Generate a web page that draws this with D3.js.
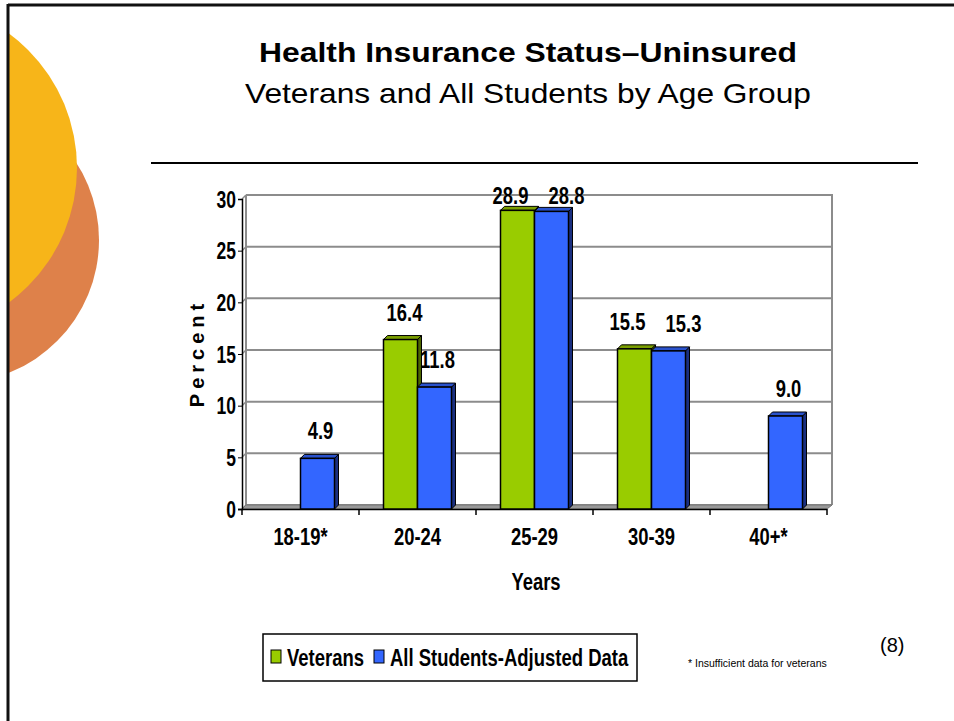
<!DOCTYPE html>
<html>
<head>
<meta charset="utf-8">
<script src="https://cdn.jsdelivr.net/npm/d3@7"></script>
<style>
  body { margin: 0; background: #fff; }
  svg { display: block; }
  .narrow { font-family: "Liberation Sans", Arial, sans-serif; font-weight: bold; }
</style>
</head>
<body>
<svg width="954" height="721"></svg>
<script>
var svg = d3.select("svg"),
    width = +svg.attr("width"),
    height = +svg.attr("height");

// data
var categories = ["18-19*", "20-24", "25-29", "30-39", "40+*"];
var series = ["Veterans", "All Students-Adjusted Data"];
var veterans = [null, 16.4, 28.9, 15.5, null];
var allStudents = [4.9, 11.8, 28.8, 15.3, 9.0];
var yTicks = [0, 5, 10, 15, 20, 25, 30];

var colors = { "Veterans": ["#99cc00", "#7a9e00", "#4d6600"],
               "All Students-Adjusted Data": ["#3366ff", "#2a52cc", "#1a2f80"] };

// squeeze text horizontally, like Arial Narrow
function squeeze(sel, f) {
  sel.each(function() {
    var w = this.getComputedTextLength();
    d3.select(this).attr("textLength", w * f).attr("lengthAdjust", "spacingAndGlyphs");
  });
}

// slide decoration
var deco = svg.append("g");
deco.append("clipPath").attr("id", "slideclip")
  .append("rect").attr("x", 9).attr("y", 6).attr("width", width).attr("height", height);
var circles = deco.append("g").attr("clip-path", "url(#slideclip)");
circles.append("circle").attr("cx", -44).attr("cy", 240).attr("r", 143).attr("fill", "#de814a");
circles.append("circle").attr("cx", -90).attr("cy", 168).attr("r", 167).attr("fill", "#f7b519");
deco.append("line").attr("x1", 8).attr("x2", width).attr("y1", 5).attr("y2", 5)
  .attr("stroke", "#111").attr("stroke-width", 3);
deco.append("line").attr("x1", 8).attr("x2", 8).attr("y1", 4).attr("y2", height)
  .attr("stroke", "#111").attr("stroke-width", 3);

// titles
svg.append("text").attr("x", 528).attr("y", 62).attr("text-anchor", "middle")
  .attr("textLength", 538).attr("lengthAdjust", "spacingAndGlyphs")
  .style("font-family", "'Liberation Sans', Arial, sans-serif").style("font-weight", "bold").style("font-size", "28px")
  .text("Health Insurance Status\u2013Uninsured");
svg.append("text").attr("x", 528).attr("y", 103).attr("text-anchor", "middle")
  .attr("textLength", 566).attr("lengthAdjust", "spacingAndGlyphs")
  .style("font-family", "'Liberation Sans', Arial, sans-serif").style("font-size", "28px")
  .text("Veterans and All Students by Age Group");
svg.append("line").attr("x1", 151).attr("x2", 918).attr("y1", 163).attr("y2", 163)
  .attr("stroke", "#000").attr("stroke-width", 2);

// chart
var depth = 4;
var x0 = d3.scaleBand().domain(categories).range([242, 827]);
var x1 = d3.scaleBand().domain(series).range([0, 68]);
var y = d3.scaleLinear().domain([0, 30]).range([509, 199]);
var groupOff = (x0.bandwidth() - 68) / 2;

var chart = svg.append("g");

// back wall grid
chart.selectAll(".grid").data(yTicks).enter().append("line")
  .attr("x1", 242 + depth).attr("x2", 827 + depth + 1)
  .attr("y1", function(d) { return y(d) - depth; })
  .attr("y2", function(d) { return y(d) - depth; })
  .attr("stroke", "#8c8c8c").attr("stroke-width", 2);
chart.selectAll(".gridlink").data(yTicks).enter().append("line")
  .attr("x1", 242).attr("x2", 242 + depth)
  .attr("y1", function(d) { return y(d); })
  .attr("y2", function(d) { return y(d) - depth; })
  .attr("stroke", "#8c8c8c").attr("stroke-width", 1.5);
chart.append("line").attr("x1", 246).attr("x2", 246).attr("y1", y(30) - depth).attr("y2", y(0) - depth)
  .attr("stroke", "#8c8c8c").attr("stroke-width", 2);
chart.append("line").attr("x1", 827 + depth + 1).attr("x2", 827 + depth + 1)
  .attr("y1", y(30) - depth - 1).attr("y2", y(0) - depth)
  .attr("stroke", "#8c8c8c").attr("stroke-width", 2);

// floor
chart.append("polygon")
  .attr("points", [[242, y(0)], [242 + depth, y(0) - depth], [827 + depth + 1, y(0) - depth], [827, y(0)]].join(" "))
  .attr("fill", "#999").attr("stroke", "#777").attr("stroke-width", 1);

// y axis
var yAxis = d3.axisLeft(y).tickValues(yTicks).tickSize(4).tickPadding(2);
var ya = chart.append("g").attr("transform", "translate(242,0)").call(yAxis);
ya.select(".domain").attr("stroke", "#000").attr("stroke-width", 1.5);
ya.selectAll("line").attr("stroke", "#000");
ya.selectAll("text").attr("class", "narrow").style("font-size", "23px").attr("dy", "0.35em").attr("fill", "#000")
  .call(squeeze, 0.76);

// x axis
var xa = chart.append("g").attr("transform", "translate(0," + y(0) + ")")
  .call(d3.axisBottom(x0).tickSize(0).tickPadding(20));
xa.select(".domain").attr("d", "M238,0.5H827").attr("stroke", "#000").attr("stroke-width", 1.5);
xa.selectAll("text").attr("class", "narrow").style("font-size", "23px").attr("fill", "#000")
  .call(squeeze, 0.8);
xa.selectAll(".sep").data(x0.domain().concat([null])).enter().append("line")
  .attr("x1", function(d, i) { return 242 + i * x0.step(); })
  .attr("x2", function(d, i) { return 242 + i * x0.step(); })
  .attr("y1", 0).attr("y2", 6).attr("stroke", "#000").attr("stroke-width", 1.5);

// bars
var rows = [];
categories.forEach(function(c, i) {
  var close = veterans[i] != null && Math.abs(veterans[i] - allStudents[i]) < 3;
  rows.push({ cat: c, key: series[0], value: veterans[i], nudge: close ? -7 : 4 });
  rows.push({ cat: c, key: series[1], value: allStudents[i], nudge: close ? 15 : 3 });
});
rows = rows.filter(function(d) { return d.value != null; });

var bar = chart.selectAll(".bar").data(rows).enter().append("g").attr("class", "bar");
bar.each(function(d) {
  var g = d3.select(this);
  var xl = x0(d.cat) + groupOff + x1(d.key), xr = xl + x1.bandwidth(), yt = y(d.value), yb = y(0);
  var c = colors[d.key];
  g.append("polygon")
    .attr("points", [[xr, yt], [xr + depth, yt - depth], [xr + depth, yb - depth], [xr, yb]].join(" "))
    .attr("fill", c[2]).attr("stroke", "#000").attr("stroke-width", 1);
  g.append("polygon")
    .attr("points", [[xl, yt], [xl + depth, yt - depth], [xr + depth, yt - depth], [xr, yt]].join(" "))
    .attr("fill", c[1]).attr("stroke", "#000").attr("stroke-width", 1);
  g.append("rect").attr("x", xl).attr("y", yt).attr("width", xr - xl).attr("height", yb - yt)
    .attr("fill", c[0]).attr("stroke", "#000").attr("stroke-width", 1.5);
  g.append("text").attr("class", "narrow")
    .attr("x", (xl + xr) / 2 + d.nudge).attr("y", Math.max(yt - 19, 204))
    .attr("text-anchor", "middle").style("font-size", "23px").text(d3.format(".1f")(d.value))
    .call(squeeze, 0.8);
});

// axis titles
svg.append("text").attr("transform", "translate(204,353) rotate(-90)").attr("text-anchor", "middle")
  .style("font-family", "'Liberation Sans', Arial, sans-serif").style("font-weight", "bold")
  .style("font-size", "20px").style("letter-spacing", "5px").text("Percent");
svg.append("text").attr("class", "narrow").attr("x", 536).attr("y", 590).attr("text-anchor", "middle")
  .style("font-size", "23px").text("Years").call(squeeze, 0.8);

// legend
var legend = svg.append("g");
legend.append("rect").attr("x", 263).attr("y", 634).attr("width", 374).attr("height", 47)
  .attr("fill", "#fff").attr("stroke", "#000").attr("stroke-width", 1.5);
var legX = [271, 374];
series.forEach(function(s, i) {
  legend.append("rect").attr("x", legX[i]).attr("y", 650).attr("width", 10).attr("height", 13)
    .attr("fill", colors[s][0]).attr("stroke", "#000").attr("stroke-width", 1);
  legend.append("text").attr("class", "narrow").attr("x", legX[i] + 16).attr("y", 666)
    .style("font-size", "24px").text(s).call(squeeze, 0.77);
});

// notes
svg.append("text").attr("x", 688).attr("y", 667)
  .style("font-family", "'Liberation Sans', Arial, sans-serif").style("font-size", "10.5px")
  .text("* Insufficient data for veterans");
svg.append("text").attr("x", 880).attr("y", 652)
  .style("font-family", "'Liberation Sans', Arial, sans-serif").style("font-size", "20px")
  .text("(8)");
</script>
</body>
</html>
